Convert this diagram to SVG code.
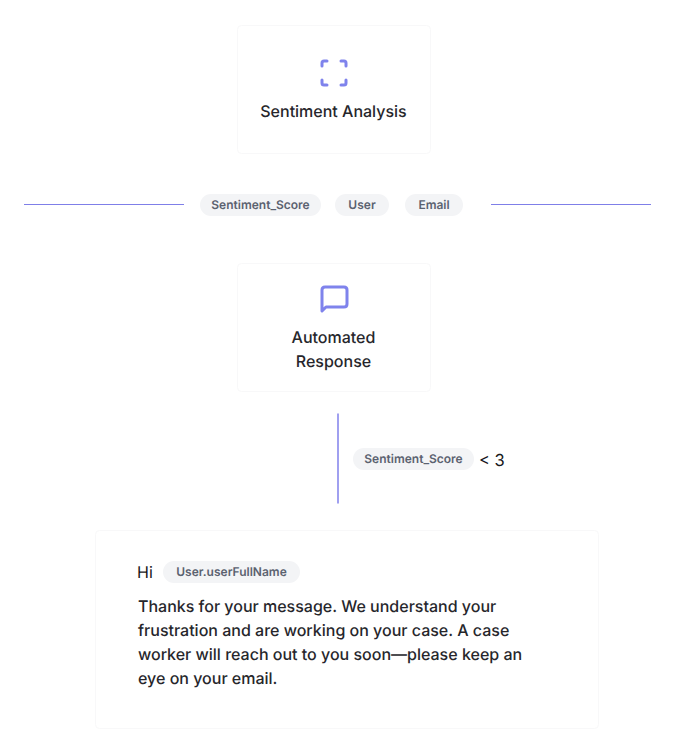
<svg xmlns="http://www.w3.org/2000/svg" width="675" height="746" viewBox="0 0 675 746">
<style>
text{font-family:Inter,"Liberation Sans",sans-serif;text-rendering:geometricPrecision}
.card{fill:#fff;stroke:#f8f8f9;stroke-width:1}
.t{font-size:16px;font-weight:500;fill:#26262b;text-anchor:middle}
.b{font-size:16px;font-weight:500;fill:#26262b}
.pill{fill:#f3f4f6}
.p{font-size:12px;font-weight:600;fill:#5b6270;text-anchor:middle}
.ln{stroke:#7f7fe8;stroke-width:1;fill:none}
.ic{fill:none;stroke:#7f83ec;stroke-width:3;stroke-linecap:round;stroke-linejoin:round}
</style>
<rect width="675" height="746" fill="#fff"/>
<g id="connectors">
<line class="ln" x1="24" y1="204.500" x2="184" y2="204.500"/>
<line class="ln" x1="491" y1="204.500" x2="651" y2="204.500"/>
<line class="ln" x1="338" y1="413.500" x2="338" y2="503.500" style="stroke-width:2;stroke:#a0a0f0"/>
</g>
<g id="sentiment-analysis">
<rect class="card" x="237.500" y="25.500" width="193" height="128" rx="4"/>
<path class="ic" d="M322 66V63Q322 61 324 61H327M341 61H344Q346 61 346 63V66M346 80V83Q346 85 344 85H341M327 85H324Q322 85 322 83V80"/>
<text class="t" x="333.500" y="117">Sentiment Analysis</text>
</g>
<g id="variables">
<rect class="pill" x="200" y="194" width="121" height="22" rx="11"/>
<text class="p" x="260.500" y="209">Sentiment_Score</text>
<rect class="pill" x="335" y="194" width="54" height="22" rx="11"/>
<text class="p" x="362" y="209">User</text>
<rect class="pill" x="405" y="194" width="58" height="22" rx="11"/>
<text class="p" x="434" y="209">Email</text>
</g>
<g id="automated-response">
<rect class="card" x="237.500" y="263.500" width="193" height="128" rx="4"/>
<path class="ic" d="M322 311V290Q322 287 325 287H344Q347 287 347 290V304Q347 307 344 307H326Z"/>
<text class="t" x="333.500" y="343">Automated</text>
<text class="t" x="333.500" y="367">Response</text>
</g>
<g id="condition">
<rect class="pill" x="353" y="448" width="121" height="22" rx="11"/>
<text class="p" x="413.500" y="463">Sentiment_Score</text>
<text x="479" y="465.500" font-size="16.500" fill="#18181b">&lt; 3</text>
</g>
<g id="message">
<rect class="card" x="95.500" y="530.500" width="503" height="198" rx="4"/>
<text x="137" y="578" font-size="16" fill="#18181b">Hi</text>
<rect class="pill" x="163" y="561" width="137" height="22" rx="11"/>
<text class="p" x="231.500" y="576">User.userFullName</text>
<text class="b" x="138" y="612">Thanks for your message. We understand your</text>
<text class="b" x="138" y="636">frustration and are working on your case. A case</text>
<text class="b" x="138" y="660">worker will reach out to you soon—please keep an</text>
<text class="b" x="138" y="684">eye on your email.</text>
</g>
</svg>
